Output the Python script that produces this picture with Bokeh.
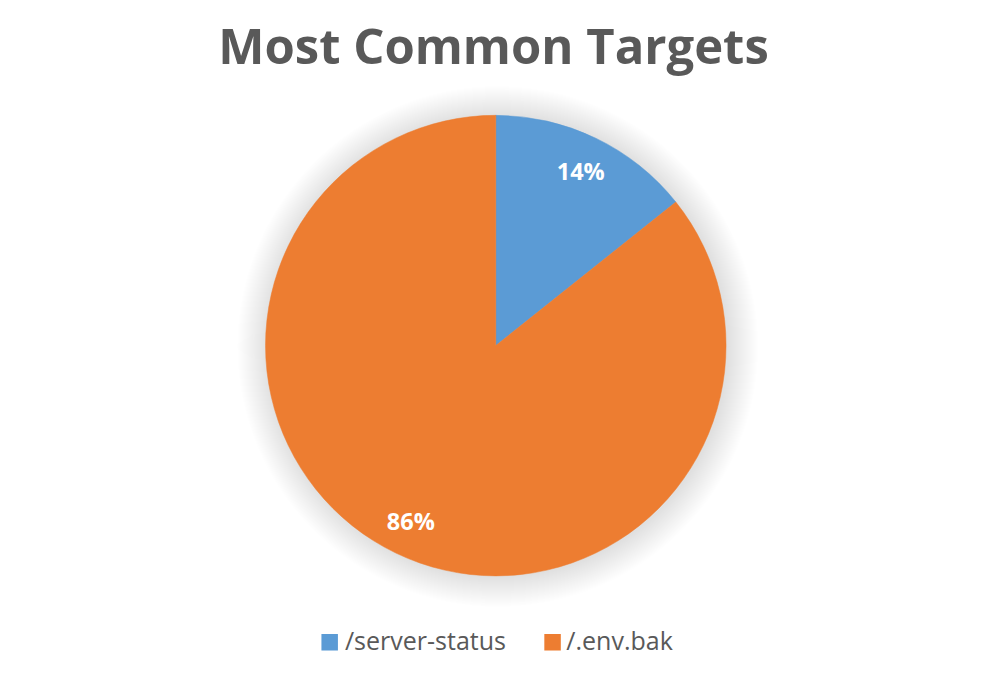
import math
from bokeh.plotting import figure
from bokeh.models import Range1d, ColumnDataSource
from bokeh.core.properties import value
from bokeh.embed import file_html
from bokeh.resources import INLINE

# ---- data ----
title_text = "Most Common Targets"
categories = ["/server-status", "/.env.bak"]
counts = [1, 6]
colors = ["#5B9BD5", "#ED7D31"]

FONT = "Open Sans"
TEXT_COLOR = "#595959"

W, H = 989, 674
p = figure(width=W, height=H, x_range=Range1d(0, 1005), y_range=Range1d(0, 690),
           output_backend="svg", toolbar_location=None, min_border=0)
p.axis.visible = False
p.grid.visible = False
p.outline_line_color = None
p.background_fill_color = "white"
p.border_fill_color = "white"

def sy(y):
    return 690 - y

cx, cy, R = 503.3, sy(353.3), 234.0

# soft shadow around the pie
for k in range(1, 32):
    p.circle(x=[cx + 2], y=[cy - 1], radius=R + k, fill_color="black",
             fill_alpha=0.0045, line_color=None)

total = sum(counts)
shares = [c / total for c in counts]
starts, ends, mids = [], [], []
acc = 0.0
for s in shares:
    a0 = math.pi / 2 - acc * 2 * math.pi
    a1 = math.pi / 2 - (acc + s) * 2 * math.pi
    starts.append(a0)
    ends.append(a1)
    mids.append((a0 + a1) / 2)
    acc += s

src = ColumnDataSource(dict(start=starts, end=ends, color=colors, cat=categories))
p.wedge(x=cx, y=cy, radius=R, start_angle="start", end_angle="end",
        direction="clock", fill_color="color", line_color="color", line_width=0.5,
        source=src)

# data labels
lab_r = 0.85 * R
lx = [cx + lab_r * math.cos(m) for m in mids]
ly = [cy + lab_r * math.sin(m) for m in mids]
labels = [f"{round(s * 100)}%" for s in shares]
p.text(x=lx, y=ly, text=labels, text_font=value(FONT), text_font_style="bold",
       text_font_size="23.5px", text_color="white", text_align="center",
       text_baseline="middle")

# title
p.text(x=[501], y=[sy(46)], text=[title_text], text_font=value(FONT),
       text_font_style="bold", text_font_size="49px", text_color=TEXT_COLOR,
       text_align="center", text_baseline="middle")

# legend
sq_x = [334.5, 561.0]
tx_x = [350.0, 575.0]
p.scatter(x=sq_x, y=[sy(657)] * 2, marker="square", size=16.5, fill_color=colors,
          line_color=None)
p.text(x=tx_x, y=[sy(655)] * 2, text=categories, text_font=value(FONT),
       text_font_size="25px", text_color=TEXT_COLOR, text_align="left",
       text_baseline="middle")

open("out.html", "w").write(file_html(p, INLINE))
